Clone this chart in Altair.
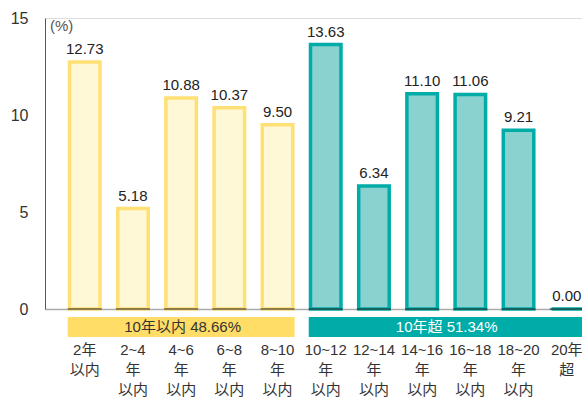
import altair as alt
import pandas as pd

FONT = "Liberation Sans, Noto Sans CJK JP, sans-serif"

categories = ["2年以内", "2~4年以内", "4~6年以内", "6~8年以内", "8~10年以内",
              "10~12年以内", "12~14年以内", "14~16年以内", "16~18年以内",
              "18~20年以内", "20年超"]
cat_labels = ["2年\n以内", "2~4\n年\n以内", "4~6\n年\n以内", "6~8\n年\n以内",
              "8~10\n年\n以内", "10~12\n年\n以内", "12~14\n年\n以内",
              "14~16\n年\n以内", "16~18\n年\n以内", "18~20\n年\n以内", "20年\n超"]
values = [12.73, 5.18, 10.88, 10.37, 9.50, 13.63, 6.34, 11.10, 11.06, 9.21, 0.00]
groups = ["10年以内"] * 5 + ["10年超"] * 6

group_names = ["10年以内", "10年超"]
group_labels = ["10年以内 48.66%", "10年超 51.34%"]
group_start = ["2年以内", "10~12年以内"]
group_end = ["8~10年以内", "20年超"]
group_center = ["4~6年以内", "14~16年以内"]

bar_fill = {"10年以内": "#FFF8D6", "10年超": "#89D2CF"}
bar_stroke = {"10年以内": "#FFE075", "10年超": "#00ACA8"}
band_fill = {"10年以内": "#FFDD66", "10年超": "#00ACA8"}
band_text = {"10年以内": "#333333", "10年超": "#FFFFFF"}

df = pd.DataFrame({"cat": categories, "label": cat_labels, "value": values, "group": groups})
dg = pd.DataFrame({"group": group_names, "label": group_labels,
                   "start": group_start, "end": group_end, "center": group_center})

xscale = alt.Scale(domain=categories, paddingInner=0.367, paddingOuter=0.254, align=1)
yscale = alt.Scale(domain=[0, 15], nice=False, zero=True)

x_enc = alt.X("cat:N", scale=xscale, sort=categories,
              axis=alt.Axis(labels=False, ticks=False, title=None,
                            domainColor="#AAAAAA", domainWidth=1.5))
y_enc = alt.Y("value:Q", scale=yscale,
              axis=alt.Axis(values=[0, 5, 10, 15], ticks=False, grid=False, title=None,
                            labelFontSize=16, labelColor="#333333", labelPadding=17,
                            labelFont=FONT, domainColor="#555555", domainWidth=1))

base = alt.Chart(df)

bars = base.mark_bar(strokeWidth=3.5, strokeJoin="miter").encode(
    x=x_enc,
    y=y_enc,
    fill=alt.Fill("group:N", scale=alt.Scale(domain=group_names,
                  range=[bar_fill[g] for g in group_names]), legend=None),
    stroke=alt.Stroke("group:N", scale=alt.Scale(domain=group_names,
                      range=[bar_stroke[g] for g in group_names]), legend=None),
)

under = base.mark_tick(color="#222222", thickness=1.5, size=34).encode(
    x=alt.X("cat:N", sort=categories),
    y=alt.datum(0),
)

value_text = base.mark_text(baseline="bottom", dy=-5, fontSize=15, font=FONT,
                            color="#222222").encode(
    x=alt.X("cat:N", sort=categories),
    y=alt.Y("value:Q"),
    text=alt.Text("value:Q", format=".2f"),
)

cat_text = base.mark_text(baseline="top", lineBreak="\n", lineHeight=20, fontSize=15,
                          font=FONT, color="#333333").encode(
    x=alt.X("cat:N", sort=categories),
    y=alt.value(325),
    text="label:N",
)

band_rect = alt.Chart(dg).mark_rect(xOffset=-1.75, x2Offset=1.75).encode(
    x=alt.X("start:N", bandPosition=0),
    x2=alt.X2("end:N", bandPosition=1),
    y=alt.value(299),
    y2=alt.value(319),
    fill=alt.Fill("group:N", scale=alt.Scale(domain=group_names,
                  range=[band_fill[g] for g in group_names]), legend=None),
)

band_labels = []
for g, dx in zip(group_names, [1.5, 24.5]):
    band_labels.append(
        alt.Chart(dg).transform_filter(alt.datum.group == g).mark_text(
            baseline="middle", fontSize=15, font=FONT, color=band_text[g], dx=dx
        ).encode(
            x=alt.X("center:N"),
            y=alt.value(309),
            text="label:N",
        )
    )

pct = alt.Chart(pd.DataFrame({"t": ["(%)"]})).mark_text(
    align="left", baseline="middle", fontSize=15, font=FONT, color="#555555"
).encode(x=alt.value(5), y=alt.value(8), text="t:N")

chart = alt.layer(bars, under, value_text, cat_text, band_rect, *band_labels, pct).resolve_scale(
    fill="independent"
).properties(
    width=537, height=291,
    autosize=alt.AutoSizeParams(type="none"),
    padding={"left": 45, "top": 18, "right": 0, "bottom": 88},
).configure_view(stroke=None).configure(background="white")

chart.save("out.html", embed_options={"renderer": "svg", "actions": False})
